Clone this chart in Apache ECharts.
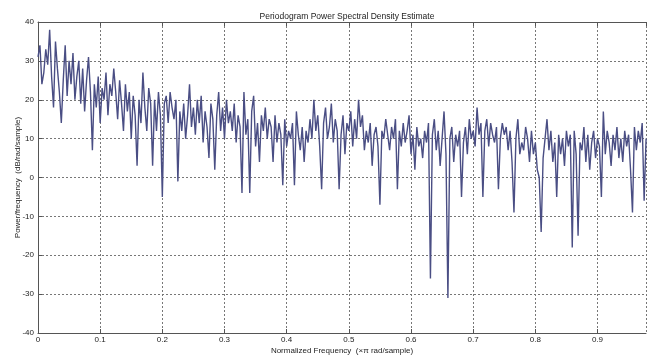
<!DOCTYPE html>
<html>
<head>
    <title>Periodogram</title>
    <meta http-equiv="content-type" content="text/html; charset=utf-8">
    <script src="https://cdn.jsdelivr.net/npm/echarts@6/dist/echarts.min.js"></script>
    <style type="text/css">
        html, body { margin: 0; padding: 0; background: #fff; }
        #main { width: 649px; height: 358px; }
    </style>
</head>
<body>
    <div id="main"></div>
    <script type="text/javascript">
        // periodogram bins, normalized frequency step (x pi rad/sample)
        var freqStep = 1 / 320;
        // power/frequency in dB/rad/sample
        var psd = [
            31, 34, 24, 27, 33, 29, 38, 26, 18, 35,
            28, 22, 14, 25, 34, 21, 30, 24, 32, 20,
            26, 30, 19, 28, 17, 25, 31, 22, 7, 24,
            18, 26, 14, 23, 20, 27, 16, 24, 21, 28,
            22, 15, 25, 19, 12, 24, 17, 22, 10, 21,
            16, 3, 20, 14, 27, 18, 12, 23, 19, 3,
            20, 12, 22, 16, -5, 19, 21, 14, 22, 18,
            15, 20, -1, 17, 12, 19, 10, 16, 24, 13,
            18, 11, 20, 14, 21, 9, 17, 13, 5, 19,
            15, 2, 16, 22, 12, 18, 10, 20, 14, 17,
            12, 19, 9, 16, 13, -4, 22, 11, 15, -4,
            17, 21, 8, 14, 4, 16, 12, 18, 10, 15,
            13, 4, 16, 9, 14, 11, -2, 15, 8, 12,
            10, 14, -2, 17, 11, 7, 13, 4, 12, 9,
            15, 10, 20, 12, 16, 8, -3, 14, 18, 10,
            13, 19, 9, 15, 12, -3, 11, 16, 6, 14,
            12, 17, 8, 15, 10, 20, 13, 16, 7, 12,
            9, 14, 3, 11, 13, 8, -7, 12, 10, 15,
            11, 7, 13, 10, 15, -3, 12, 8, 14, 9,
            12, 16, 6, 11, 2, 13, 8, 10, 5, 12,
            9, 14, -26, 11, 15, 7, 12, 3, 10, 17,
            6, -31, 10, 13, 4, 11, 8, 12, -5, 9,
            13, 6, 15, 10, 12, 8, 18, 11, 14, -5,
            12, 15, 8, 14, 11, 9, 13, -3, 10, 14,
            11, 13, 7, 12, 4, -9, 10, 15, 6, 9,
            7, 13, 10, 4, 12, 6, 9, 2, 0, -14,
            5, 10, 15, 7, 12, 4, 9, -5, 11, 6,
            10, 3, 12, 8, 11, -18, 12, 6, -15, 9,
            7, 13, 4, 11, 2, 9, 12, 5, 10, 8,
            -5, 17, 6, 12, 9, 3, 11, 7, 13, 5,
            10, 4, 12, 8, 11, 2, -9, 13, 7, 12,
            9, 14, -6, 10
        ];
        var xTicks = [0, 0.1, 0.2, 0.3, 0.4, 0.5, 0.6, 0.7, 0.8, 0.9];
        var yTicks = [-40, -30, -20, -10, 0, 10, 20, 30, 40];

        var points = psd.map(function (v, i) { return [i * freqStep, v]; });

        var chart = echarts.init(document.getElementById('main'));
        var txt = { color: '#222', fontFamily: 'Liberation Sans, Arial', fontSize: 8 };
        var option = {
            backgroundColor: '#fff',
            animation: false,
            title: {
                text: 'Periodogram Power Spectral Density Estimate',
                left: 342, top: 7, textAlign: 'center',
                textStyle: { color: '#222', fontFamily: 'Liberation Sans, Arial', fontSize: 8.5, fontWeight: 'normal' }
            },
            grid: { left: 38, top: 22, right: 3, bottom: 25, outerBoundsMode: 'none', containLabel: false },
            xAxis: [{
                type: 'value',
                min: 0, max: 0.978, interval: 0.1,
                name: 'Normalized Frequency  (\u00d7\u03c0 rad/sample)',
                nameLocation: 'middle', nameGap: 14, nameMoveOverlap: false,
                nameTextStyle: txt,
                axisLine: { onZero: false, lineStyle: { color: '#555', width: 1 } },
                axisTick: { inside: true, length: 4, lineStyle: { color: '#555' } },
                axisLabel: Object.assign({ margin: 3, showMaxLabel: false,
                    formatter: function (v) { return xTicks.indexOf(Math.round(v * 10) / 10) >= 0 ? String(Math.round(v * 10) / 10) : ''; } }, txt),
                splitLine: { show: true, lineStyle: { color: '#777', type: [2, 2], width: 1 } }
            }, {
                type: 'value', position: 'top',
                min: 0, max: 0.978, interval: 0.1,
                axisLine: { onZero: false, lineStyle: { color: '#555', width: 1 } },
                axisTick: { inside: true, length: 4, lineStyle: { color: '#555' } },
                axisLabel: { show: false },
                splitLine: { show: false }
            }],
            yAxis: {
                type: 'value',
                min: yTicks[0], max: yTicks[yTicks.length - 1], interval: 10,
                name: 'Power/frequency  (dB/rad/sample)',
                nameLocation: 'middle', nameGap: 16, nameMoveOverlap: false,
                nameTextStyle: txt,
                axisLine: { show: true, onZero: false, lineStyle: { color: '#555', width: 1 } },
                axisTick: { inside: true, length: 4, lineStyle: { color: '#555' } },
                axisLabel: Object.assign({ margin: 4 }, txt),
                splitLine: { show: true, lineStyle: { color: '#777', type: [2, 2], width: 1 } }
            },
            series: [{
                type: 'line',
                xAxisIndex: 0,
                data: points,
                showSymbol: false,
                lineStyle: { color: '#4a4e84', width: 1.4 }
            }]
        };
        chart.setOption(option);
    </script>
</body>
</html>
